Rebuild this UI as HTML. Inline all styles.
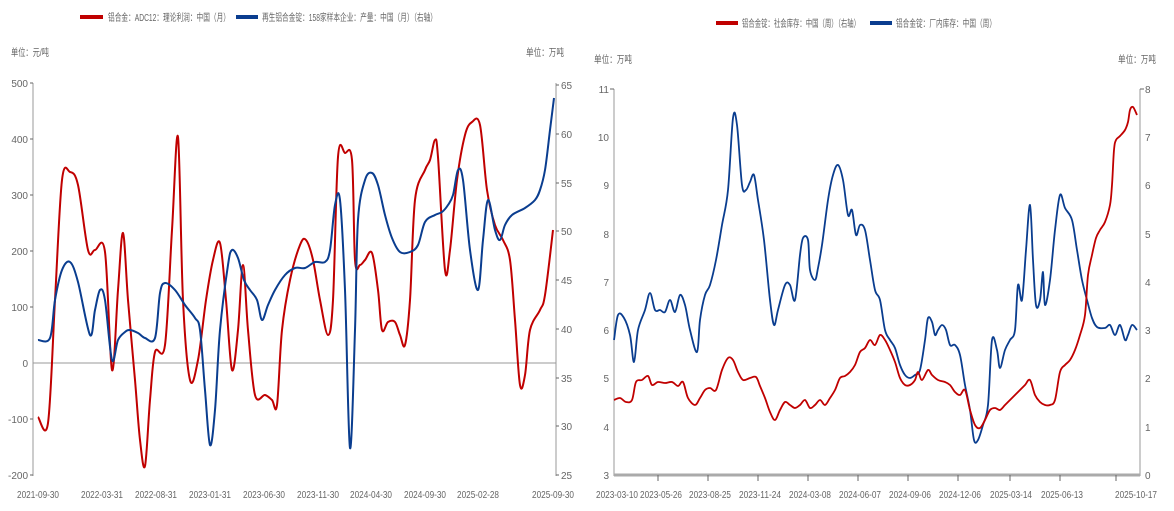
<!DOCTYPE html>
<html><head><meta charset="utf-8"><style>
body{margin:0;background:#fff;}
svg{display:block;font-family:"Liberation Sans","Noto Sans CJK SC",sans-serif;}
text{fill:#666;font-size:10px;}
</style></head><body>
<svg id="s" width="1174" height="511" viewBox="0 0 1174 511">
<!-- LEFT CHART -->
<g>
<line x1="80" y1="17" x2="103" y2="17" stroke="#c00000" stroke-width="4"/>
<text x="108" y="21" textLength="122" lengthAdjust="spacingAndGlyphs">铝合金：ADC12：理论利润：中国（月）</text>
<line x1="236" y1="17" x2="258" y2="17" stroke="#0a3d8f" stroke-width="4"/>
<text x="262" y="21" textLength="175" lengthAdjust="spacingAndGlyphs">再生铝合金锭：158家样本企业：产量：中国（月）（右轴）</text>
<text x="11" y="56" textLength="38" lengthAdjust="spacingAndGlyphs">单位：元/吨</text>
<text x="526" y="56" textLength="38" lengthAdjust="spacingAndGlyphs">单位：万吨</text>
<line x1="33" y1="83" x2="33" y2="476" stroke="#999"/>
<line x1="556" y1="83" x2="556" y2="476" stroke="#999"/>
<line x1="33" y1="363" x2="556" y2="363" stroke="#999"/>
<g text-anchor="end">
<text x="28" y="87">500</text><text x="28" y="143">400</text><text x="28" y="199">300</text><text x="28" y="255">200</text><text x="28" y="311">100</text><text x="28" y="367">0</text><text x="28" y="423">-100</text><text x="28" y="479">-200</text>
</g>
<g stroke="#666"><line x1="30" y1="83" x2="33" y2="83"/><line x1="30" y1="139" x2="33" y2="139"/><line x1="30" y1="195" x2="33" y2="195"/><line x1="30" y1="251" x2="33" y2="251"/><line x1="30" y1="307" x2="33" y2="307"/><line x1="30" y1="419" x2="33" y2="419"/><line x1="30" y1="475" x2="33" y2="475"/>
<line x1="556" y1="85" x2="559" y2="85"/><line x1="556" y1="134" x2="559" y2="134"/><line x1="556" y1="183" x2="559" y2="183"/><line x1="556" y1="231" x2="559" y2="231"/><line x1="556" y1="280" x2="559" y2="280"/><line x1="556" y1="329" x2="559" y2="329"/><line x1="556" y1="378" x2="559" y2="378"/><line x1="556" y1="426" x2="559" y2="426"/><line x1="556" y1="475" x2="559" y2="475"/></g>
<g>
<text x="561" y="89">65</text><text x="561" y="138">60</text><text x="561" y="187">55</text><text x="561" y="235">50</text><text x="561" y="284">45</text><text x="561" y="333">40</text><text x="561" y="382">35</text><text x="561" y="430">30</text><text x="561" y="479">25</text>
</g>
<g text-anchor="middle">
<text x="38" y="498" textLength="42" lengthAdjust="spacingAndGlyphs">2021-09-30</text>
<text x="102" y="498" textLength="42" lengthAdjust="spacingAndGlyphs">2022-03-31</text>
<text x="156" y="498" textLength="42" lengthAdjust="spacingAndGlyphs">2022-08-31</text>
<text x="210" y="498" textLength="42" lengthAdjust="spacingAndGlyphs">2023-01-31</text>
<text x="264" y="498" textLength="42" lengthAdjust="spacingAndGlyphs">2023-06-30</text>
<text x="318" y="498" textLength="42" lengthAdjust="spacingAndGlyphs">2023-11-30</text>
<text x="371" y="498" textLength="42" lengthAdjust="spacingAndGlyphs">2024-04-30</text>
<text x="425" y="498" textLength="42" lengthAdjust="spacingAndGlyphs">2024-09-30</text>
<text x="478" y="498" textLength="42" lengthAdjust="spacingAndGlyphs">2025-02-28</text>
<text x="553" y="498" textLength="42" lengthAdjust="spacingAndGlyphs">2025-09-30</text>
</g>
<polyline class="sm" fill="none" stroke="#c00000" stroke-width="2" stroke-linejoin="round" points="38,417 48,423 55,300 62,180 70,172 78,185 88,250 95,250 105,252 112,370 118,290 123,233 128,300 135,380 140,440 145,466 150,400 155,352 165,345 172,230 178,137 183,300 190,380 198,360 206,300 213,260 220,243 226,300 232,370 238,330 243,265 248,330 255,395 265,395 272,400 277,405 282,330 290,280 300,245 306,240 313,260 320,300 328,335 333,300 338,157 345,153 352,160 355,260 360,265 365,260 372,253 378,290 382,330 388,322 395,322 400,335 405,345 410,300 415,200 425,170 430,160 435,140 438,157 445,270 450,250 457,180 465,135 472,122 480,125 487,190 495,225 503,240 510,260 515,320 520,385 525,375 530,330 540,310 545,295 553,230"/>
<polyline class="sm" fill="none" stroke="#0a3d8f" stroke-width="2" stroke-linejoin="round" points="38,340 50,338 55,300 62,270 70,262 78,282 90,335 95,310 100,290 105,300 112,360 118,340 125,332 130,330 138,333 145,338 155,338 160,293 165,283 175,290 185,305 195,318 200,330 205,390 210,445 215,410 220,330 228,265 232,250 238,258 244,280 250,290 257,300 262,320 268,305 275,290 285,275 295,268 305,268 315,262 325,262 330,250 335,205 340,200 345,290 350,448 355,330 358,220 365,180 372,173 378,185 385,215 392,238 400,252 410,252 418,245 425,222 435,215 442,212 448,205 453,195 458,170 463,180 470,250 478,290 483,240 488,200 495,230 500,240 505,225 512,215 525,208 535,200 540,190 545,170 550,130 554,98"/>
</g>
<!-- RIGHT CHART -->
<g>
<line x1="716" y1="23" x2="738" y2="23" stroke="#c00000" stroke-width="4"/>
<text x="742" y="27" textLength="118" lengthAdjust="spacingAndGlyphs">铝合金锭：社会库存：中国（周）（右轴）</text>
<line x1="870" y1="23" x2="892" y2="23" stroke="#0a3d8f" stroke-width="4"/>
<text x="896" y="27" textLength="100" lengthAdjust="spacingAndGlyphs">铝合金锭：厂内库存：中国（周）</text>
<text x="594" y="63" textLength="38" lengthAdjust="spacingAndGlyphs">单位：万吨</text>
<text x="1118" y="63" textLength="38" lengthAdjust="spacingAndGlyphs">单位：万吨</text>
<line x1="614" y1="89" x2="614" y2="476" stroke="#999"/>
<line x1="1140" y1="89" x2="1140" y2="476" stroke="#999"/>
<line x1="614" y1="475" x2="1140" y2="475" stroke="#aaa" stroke-width="3"/>
<g stroke="#666"><line x1="610" y1="89" x2="614" y2="89"/><line x1="1140" y1="89" x2="1144" y2="89"/>
<line x1="658" y1="475" x2="658" y2="481"/><line x1="708" y1="475" x2="708" y2="481"/><line x1="758" y1="475" x2="758" y2="481"/><line x1="808" y1="475" x2="808" y2="481"/><line x1="858" y1="475" x2="858" y2="481"/><line x1="908" y1="475" x2="908" y2="481"/><line x1="958" y1="475" x2="958" y2="481"/><line x1="1010" y1="475" x2="1010" y2="481"/><line x1="1060" y1="475" x2="1060" y2="481"/><line x1="1116" y1="475" x2="1116" y2="481"/></g>
<g text-anchor="end">
<text x="609" y="93">11</text><text x="609" y="141">10</text><text x="609" y="189">9</text><text x="609" y="238">8</text><text x="609" y="286">7</text><text x="609" y="334">6</text><text x="609" y="382">5</text><text x="609" y="431">4</text><text x="609" y="479">3</text>
</g>
<g>
<text x="1145" y="93">8</text><text x="1145" y="141">7</text><text x="1145" y="189">6</text><text x="1145" y="238">5</text><text x="1145" y="286">4</text><text x="1145" y="334">3</text><text x="1145" y="382">2</text><text x="1145" y="431">1</text><text x="1145" y="479">0</text>
</g>
<g text-anchor="middle">
<text x="617" y="498" textLength="42" lengthAdjust="spacingAndGlyphs">2023-03-10</text>
<text x="661" y="498" textLength="42" lengthAdjust="spacingAndGlyphs">2023-05-26</text>
<text x="710" y="498" textLength="42" lengthAdjust="spacingAndGlyphs">2023-08-25</text>
<text x="760" y="498" textLength="42" lengthAdjust="spacingAndGlyphs">2023-11-24</text>
<text x="810" y="498" textLength="42" lengthAdjust="spacingAndGlyphs">2024-03-08</text>
<text x="860" y="498" textLength="42" lengthAdjust="spacingAndGlyphs">2024-06-07</text>
<text x="910" y="498" textLength="42" lengthAdjust="spacingAndGlyphs">2024-09-06</text>
<text x="960" y="498" textLength="42" lengthAdjust="spacingAndGlyphs">2024-12-06</text>
<text x="1011" y="498" textLength="42" lengthAdjust="spacingAndGlyphs">2025-03-14</text>
<text x="1062" y="498" textLength="42" lengthAdjust="spacingAndGlyphs">2025-06-13</text>
<text x="1136" y="498" textLength="42" lengthAdjust="spacingAndGlyphs">2025-10-17</text>
</g>
<polyline class="sm" fill="none" stroke="#0a3d8f" stroke-width="1.8" stroke-linejoin="round" points="614,340 618,315 624,318 630,335 634,362 638,330 645,310 650,293 655,310 660,310 665,312 670,300 675,312 680,295 685,305 690,330 697,352 700,320 705,295 710,285 716,260 722,225 728,190 733,118 737,125 742,185 746,190 750,182 754,175 758,200 764,240 770,300 774,325 778,310 785,285 790,285 795,300 800,255 803,238 808,240 810,270 815,280 818,268 822,245 828,200 833,175 838,165 843,180 848,215 852,210 856,235 860,225 865,230 870,260 875,290 880,300 885,330 890,340 895,348 900,365 905,375 910,378 915,375 920,370 925,340 928,318 932,322 935,335 938,330 942,325 946,330 950,345 955,345 960,355 965,385 970,410 974,440 978,440 983,425 988,405 992,340 997,350 1000,368 1005,350 1010,340 1015,330 1018,285 1022,300 1026,250 1030,205 1033,260 1036,305 1040,300 1043,272 1045,305 1050,280 1055,230 1060,195 1065,208 1072,220 1077,250 1082,280 1087,300 1092,318 1097,327 1105,328 1110,325 1115,335 1120,325 1125,340 1128,335 1132,325 1137,330"/>
<polyline class="sm" fill="none" stroke="#c00000" stroke-width="1.8" stroke-linejoin="round" points="614,400 620,398 626,402 632,400 636,382 642,380 648,376 652,385 658,382 665,383 672,382 678,386 683,382 688,398 695,405 700,398 705,390 710,388 716,390 722,370 728,358 733,360 738,372 743,380 750,378 756,377 760,386 765,398 770,412 775,420 780,410 785,402 790,405 795,408 800,405 805,400 810,408 815,405 820,400 825,405 830,398 835,390 840,378 845,376 850,372 855,365 860,352 865,348 870,340 875,345 880,335 885,340 890,350 895,362 900,378 905,385 910,385 915,380 918,372 922,380 928,370 932,375 938,380 945,382 950,385 955,392 960,395 965,390 970,410 975,425 980,428 985,420 990,410 995,408 1000,410 1005,405 1010,400 1015,395 1020,390 1025,385 1030,380 1035,395 1040,402 1045,405 1050,405 1055,400 1060,372 1065,365 1070,360 1075,350 1080,335 1085,315 1088,275 1092,255 1096,238 1100,230 1105,222 1110,205 1112,185 1114,150 1116,140 1120,136 1125,130 1128,122 1130,110 1133,107 1137,115"/>
</g>
</svg>
<script>
document.querySelectorAll('polyline.sm').forEach(function(pl){
  var p=pl.getAttribute('points').trim().split(/\s+/).map(function(s){var a=s.split(',');return[+a[0],+a[1]];});
  var d='M'+p[0][0]+','+p[0][1];
  for(var i=0;i<p.length-1;i++){
    var p0=p[i-1]||p[i],p1=p[i],p2=p[i+1],p3=p[i+2]||p2;
    var c1x=p1[0]+(p2[0]-p0[0])/6,c1y=p1[1]+(p2[1]-p0[1])/6;
    var c2x=p2[0]-(p3[0]-p1[0])/6,c2y=p2[1]-(p3[1]-p1[1])/6;
    d+='C'+c1x.toFixed(1)+','+c1y.toFixed(1)+' '+c2x.toFixed(1)+','+c2y.toFixed(1)+' '+p2[0]+','+p2[1];
  }
  var path=document.createElementNS('http://www.w3.org/2000/svg','path');
  path.setAttribute('d',d);path.setAttribute('fill','none');
  path.setAttribute('stroke',pl.getAttribute('stroke'));
  path.setAttribute('stroke-width',pl.getAttribute('stroke-width'));
  path.setAttribute('stroke-linejoin','round');
  pl.parentNode.replaceChild(path,pl);
});
</script>
</body></html>
